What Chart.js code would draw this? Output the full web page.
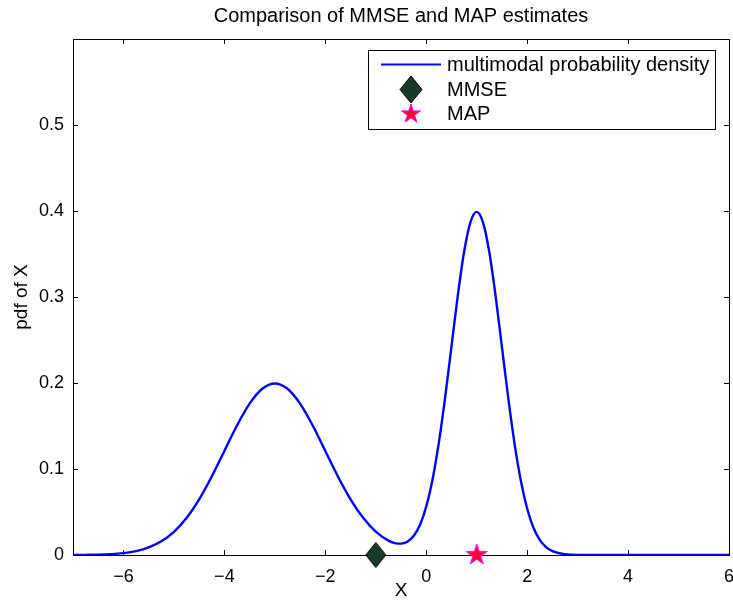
<!DOCTYPE html>
<html>
<head>
<meta charset="utf-8">
<script src="https://cdn.jsdelivr.net/npm/chart.js@4/dist/chart.umd.min.js"></script>
<style>
html,body{margin:0;padding:0;background:#fff;}
canvas{display:block;}
</style>
</head>
<body>
<canvas id="c" width="733" height="604"></canvas>
<script>
// ---- data ----
const xValues = [-7, -6.75, -6.5, -6.25, -6, -5.75, -5.5, -5.25, -5, -4.75, -4.5, -4.25, -4, -3.75, -3.5, -3.25, -3, -2.75, -2.5, -2.25, -2, -1.75, -1.5, -1.25, -1, -0.75, -0.625, -0.5, -0.375, -0.25, -0.125, 0, 0.125, 0.25, 0.375, 0.5, 0.625, 0.75, 0.875, 1, 1.125, 1.25, 1.375, 1.5, 1.625, 1.75, 1.875, 2, 2.125, 2.25, 2.375, 2.5, 2.75, 3, 3.5, 4, 5, 6];
const pdfValues = [0.0001, 0.0002, 0.0004, 0.0010, 0.0022, 0.0045, 0.0088, 0.0159, 0.0270, 0.0431, 0.0648, 0.0913, 0.1210, 0.1506, 0.1760, 0.1933, 0.1995, 0.1933, 0.1760, 0.1506, 0.1210, 0.0913, 0.0648, 0.0432, 0.0271, 0.0167, 0.0139, 0.0132, 0.0155, 0.0221, 0.0349, 0.0562, 0.0878, 0.1306, 0.1833, 0.2424, 0.3014, 0.3523, 0.3867, 0.3990, 0.3867, 0.3521, 0.3011, 0.2420, 0.1826, 0.1295, 0.0863, 0.0540, 0.0317, 0.0175, 0.0091, 0.0044, 0.0009, 0.0001, 0, 0, 0, 0];
const mmseX = [-1];
const mmseY = [0];
const mapX = [1];
const mapY = [0];
const xTicks = [-6, -4, -2, 0, 2, 4, 6];
const yTicks = [0, 0.1, 0.2, 0.3, 0.4, 0.5];
const seriesNames = ['multimodal probability density', 'MMSE', 'MAP'];
const titleText = 'Comparison of MMSE and MAP estimates';
const xLabel = 'X';
const yLabel = 'pdf of X';

const FONT = '"Liberation Sans", Arial, Helvetica, sans-serif';
const LINE_COLOR = '#0000ff';
const DIAMOND_FILL = '#163a27';
const STAR_FILL = '#ff0033';
const STAR_EDGE = '#ff00ff';

function drawDiamond(ctx, cx, cy, w, h) {
  ctx.beginPath();
  ctx.moveTo(cx, cy - h / 2);
  ctx.lineTo(cx + w / 2, cy);
  ctx.lineTo(cx, cy + h / 2);
  ctx.lineTo(cx - w / 2, cy);
  ctx.closePath();
  ctx.fillStyle = DIAMOND_FILL;
  ctx.fill();
  ctx.lineWidth = 1;
  ctx.strokeStyle = '#000';
  ctx.stroke();
}
function drawStar(ctx, cx, cy, R) {
  const r = R * 0.382;
  ctx.beginPath();
  for (let i = 0; i < 10; i++) {
    const a = -Math.PI / 2 + i * Math.PI / 5;
    const rr = i % 2 === 0 ? R : r;
    const px = cx + rr * Math.cos(a), py = cy + rr * Math.sin(a);
    if (i === 0) ctx.moveTo(px, py); else ctx.lineTo(px, py);
  }
  ctx.closePath();
  ctx.fillStyle = STAR_FILL;
  ctx.fill();
  ctx.lineWidth = 1;
  ctx.strokeStyle = STAR_EDGE;
  ctx.stroke();
}
function markerCanvas(kind) {
  const c = document.createElement('canvas');
  c.width = 26; c.height = 30;
  const ctx = c.getContext('2d');
  if (kind === 'diamond') drawDiamond(ctx, 13, 15, 20, 25);
  else drawStar(ctx, 13, 15, 11);
  return c;
}

const boxPlugin = {
  id: 'matlabBox',
  beforeDatasetsDraw(chart) {
    const ctx = chart.ctx, a = chart.chartArea;
    const xs = chart.scales.x, ys = chart.scales.y;
    ctx.save();
    ctx.strokeStyle = '#000';
    ctx.lineWidth = 1;
    ctx.strokeRect(Math.round(a.left) + 0.5, Math.round(a.top) + 0.5, Math.round(a.right - a.left), Math.round(a.bottom - a.top));
    const tl = 5;
    ctx.beginPath();
    xTicks.forEach(v => {
      const px = Math.round(xs.getPixelForValue(v)) + 0.5;
      ctx.moveTo(px, a.bottom); ctx.lineTo(px, a.bottom - tl);
      ctx.moveTo(px, a.top); ctx.lineTo(px, a.top + tl);
    });
    yTicks.forEach(v => {
      const py = Math.round(ys.getPixelForValue(v)) + 0.5;
      ctx.moveTo(a.left, py); ctx.lineTo(a.left + tl, py);
      ctx.moveTo(a.right, py); ctx.lineTo(a.right - tl, py);
    });
    ctx.stroke();
    ctx.restore();
  },
  afterDraw(chart) {
    const ctx = chart.ctx, a = chart.chartArea;
    const cx = (a.left + a.right) / 2, cy = (a.top + a.bottom) / 2;
    ctx.save();
    ctx.fillStyle = '#000';
    ctx.textAlign = 'center';
    ctx.textBaseline = 'middle';
    ctx.font = '20px ' + FONT;
    ctx.fillText(titleText, cx, 16);
    ctx.font = '19px ' + FONT;
    ctx.fillText(xLabel, cx, 591);
    ctx.save();
    ctx.translate(22, cy);
    ctx.rotate(-Math.PI / 2);
    ctx.fillText(yLabel, 0, 0);
    ctx.restore();
    // legend
    const lx = 368.5, ly = 50.5, lw = 347, lh = 79;
    ctx.fillStyle = '#fff';
    ctx.fillRect(lx, ly, lw, lh);
    ctx.strokeStyle = '#000';
    ctx.lineWidth = 1;
    ctx.strokeRect(lx, ly, lw, lh);
    ctx.beginPath();
    ctx.strokeStyle = LINE_COLOR;
    ctx.lineWidth = 2;
    ctx.moveTo(381, 64.5); ctx.lineTo(441, 64.5);
    ctx.stroke();
    drawDiamond(ctx, 411, 89.5, 22, 27);
    drawStar(ctx, 411, 114, 10);
    ctx.fillStyle = '#000';
    ctx.textAlign = 'left';
    ctx.textBaseline = 'middle';
    ctx.font = '20px ' + FONT;
    ctx.fillText(seriesNames[0], 447, 65);
    ctx.fillText(seriesNames[1], 447, 90);
    ctx.fillText(seriesNames[2], 447, 114);
    ctx.restore();
  }
};

new Chart(document.getElementById('c'), {
  type: 'line',
  data: {
    datasets: [
      {
        label: seriesNames[0],
        data: xValues.map((x, i) => ({ x: x, y: pdfValues[i] })),
        borderColor: LINE_COLOR,
        borderWidth: 2.4,
        pointRadius: 0,
        fill: false,
        cubicInterpolationMode: 'monotone'
      },
      {
        label: seriesNames[1],
        data: mmseX.map((x, i) => ({ x: x, y: mmseY[i] })),
        showLine: false,
        pointStyle: markerCanvas('diamond'),
        pointRadius: 10,
        clip: false
      },
      {
        label: seriesNames[2],
        data: mapX.map((x, i) => ({ x: x, y: mapY[i] })),
        showLine: false,
        pointStyle: markerCanvas('star'),
        pointRadius: 10,
        clip: false
      }
    ]
  },
  options: {
    responsive: false,
    animation: false,
    layout: { autoPadding: false, padding: { top: 39, right: 4, left: 0, bottom: 0 } },
    plugins: { legend: { display: false }, title: { display: false }, tooltip: { enabled: false } },
    scales: {
      x: {
        type: 'linear', min: -7, max: 6,
        grid: { display: false, drawTicks: false },
        border: { display: false },
        afterBuildTicks: s => { s.ticks = xTicks.map(v => ({ value: v })); },
        afterFit: s => { s.height = 49; s.paddingLeft = 0; s.paddingRight = 0; },
        ticks: {
          color: '#000', font: { family: FONT, size: 18 }, padding: 11, maxRotation: 0,
          callback: v => (v < 0 ? '\u2212' + Math.abs(v) : String(v))
        }
      },
      y: {
        type: 'linear', min: 0, max: 0.6,
        grid: { display: false, drawTicks: false },
        border: { display: false },
        afterBuildTicks: s => { s.ticks = yTicks.map(v => ({ value: v })); },
        afterFit: s => { s.width = 73; s.paddingTop = 0; s.paddingBottom = 0; },
        ticks: {
          color: '#000', font: { family: FONT, size: 18 }, padding: 9,
          callback: v => (v === 0 ? '0' : String(Math.round(v * 10) / 10))
        }
      }
    }
  },
  plugins: [boxPlugin]
});
</script>
</body>
</html>
